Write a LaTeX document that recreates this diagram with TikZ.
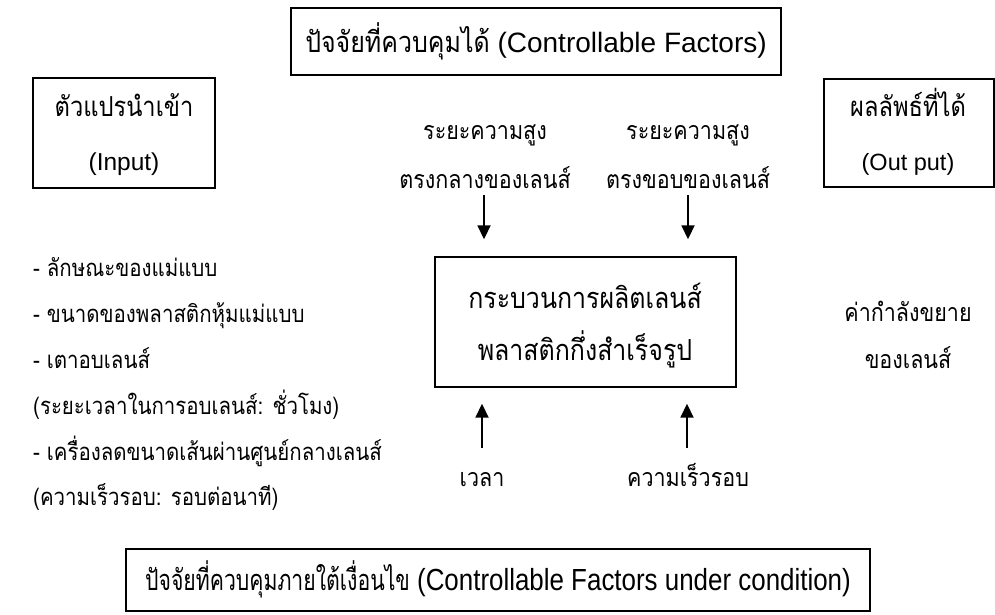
\documentclass[tikz,border=0pt]{standalone}
\usepackage{fontspec}
\usepackage{graphicx}
\setmainfont{Liberation Sans}
\newfontfamily\thaifont[Script=Thai,FakeStretch=0.86]{Loma}
\usetikzlibrary{arrows.meta}
\newcommand\thtxt[1]{{\thaifont #1}}
\begin{document}
\begin{tikzpicture}[x=1pt,y=-1pt,
  box/.style={draw, line width=1.4pt, inner sep=0pt},
  lbl/.style={inner sep=0pt, anchor=base, font=\fontsize{23.5}{28}\selectfont},
  tlbl/.style={inner sep=0pt, anchor=base, font=\fontsize{25}{30}\selectfont\thaifont},
  bigt/.style={tlbl, font=\fontsize{27.5}{32}\selectfont\thaifont},
  proct/.style={tlbl, font=\fontsize{29}{34}\selectfont\thaifont},
  lst/.style={tlbl, anchor=base west, font=\fontsize{23.8}{28}\selectfont\thaifont},
  arr/.style={line width=1.8pt, -{Triangle[length=14pt,width=13pt]}}]
\useasboundingbox (0,0) rectangle (995,614);
% boxes
\node[box, minimum width=490pt, minimum height=67pt] (ctrl) at (536,41.5) {};
\node[box, minimum width=182pt, minimum height=110pt] (inp) at (124,133) {};
\draw[line width=1.4pt] (994,79) -- (824,79) coordinate (outtl) -- (824,187) -- (994,187) -- cycle;
\node[box, minimum width=301pt, minimum height=130pt] (proc) at (585.5,322) {};
\node[box, minimum width=744pt, minimum height=62pt] (cond) at (498,580) {};
% texts
\node[lbl, font=\fontsize{28}{32}\selectfont] (tctrl) at (536,52) {{\fontsize{29}{32}\selectfont\thtxt{ปัจจัยที่ควบคุมได้}} (Controllable Factors)};
\node[bigt] (tin1) at (124,116) {ตัวแปรนำเข้า};
\node[lbl, font=\fontsize{24.5}{28}\selectfont] (tin2) at (124,170) {(Input)};
\node[bigt] (tout1) at (908,116) {ผลลัพธ์ที่ได้};
\node[lbl] (tout2) at (908,170) {(Out put)};
\node[tlbl] (h1a) at (485,139) {ระยะความสูง};
\node[tlbl] (h1b) at (485,188) {ตรงกลางของเลนส์};
\node[tlbl] (h2a) at (688,139) {ระยะความสูง};
\node[tlbl] (h2b) at (688,188) {ตรงขอบของเลนส์};
\node[proct] (p1) at (585,308) {กระบวนการผลิตเลนส์};
\node[proct] (p2) at (585,360) {พลาสติกกึ่งสำเร็จรูป};
\node[tlbl] (r1) at (908,321) {ค่ากำลังขยาย};
\node[tlbl] (r2) at (908,368) {ของเลนส์};
\node[tlbl] (b1) at (482,486) {เวลา};
\node[tlbl] (b2) at (688,486) {ความเร็วรอบ};
\node[lst] (l1) at (33,276) {- ลักษณะของแม่แบบ};
\node[lst] (l2) at (33,322) {- ขนาดของพลาสติกหุ้มแม่แบบ};
\node[lst] (l3) at (33,368) {- เตาอบเลนส์};
\node[lst] (l4) at (33,414) {(ระยะเวลาในการอบเลนส์: ชั่วโมง)};
\node[lst] (l5) at (33,460) {- เครื่องลดขนาดเส้นผ่านศูนย์กลางเลนส์};
\node[lst] (l6) at (33,505) {(ความเร็วรอบ: รอบต่อนาที)};
\node[lbl, font=\fontsize{30.5}{34}\selectfont] (tcond) at (498,590) {\scalebox{0.85}[1]{{\fontsize{29}{32}\selectfont\thtxt{ปัจจัยที่ควบคุมภายใต้เงื่อนไข}} (Controllable Factors under condition)}};
% arrows
\coordinate (a1s) at (484,195);
\coordinate (a2s) at (688,195);
\coordinate (a3s) at (482,448);
\coordinate (a4s) at (687,448);
\draw[arr, shorten >=17pt] (a1s) -- (a1s |- proc.north);
\draw[arr, shorten >=17pt] (a2s) -- (a2s |- proc.north);
\draw[arr, shorten >=16pt] (a3s) -- (a3s |- proc.south);
\draw[arr, shorten >=16pt] (a4s) -- (a4s |- proc.south);
\end{tikzpicture}
\end{document}
